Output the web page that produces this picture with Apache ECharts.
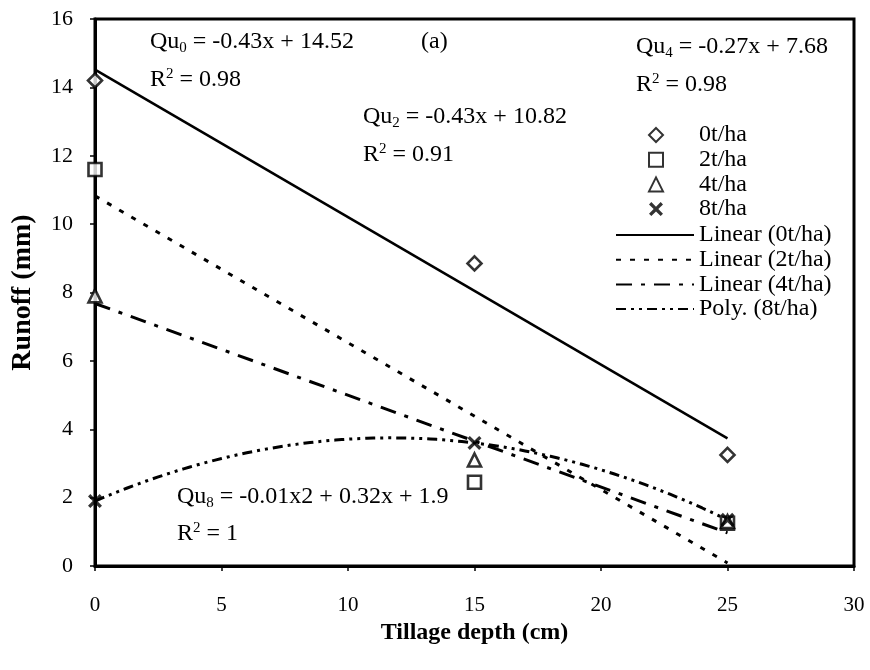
<!DOCTYPE html>
<html>
<head>
<meta charset="utf-8">
<script src="https://cdn.jsdelivr.net/npm/echarts@6/dist/echarts.min.js"></script>
<style>
  html, body { margin: 0; padding: 0; background: #fff; }
  #chart { width: 870px; height: 670px; }
</style>
</head>
<body>
<div id="chart"></div>
<script>
// Tillage depth (cm) and measured runoff (mm) for each residue rate
const depth = [0, 15, 25];
const runoff0 = [14.2, 8.85, 3.25];
const runoff2 = [11.6, 2.45, 1.25];
const runoff4 = [7.9, 3.1, 1.3];
const runoff8 = [1.9, 3.6, 1.35];

const pointNames = ['0t/ha', '2t/ha', '4t/ha', '8t/ha'];
const trendNames = ['Linear (0t/ha)', 'Linear (2t/ha)', 'Linear (4t/ha)', 'Poly. (8t/ha)'];

const xTicks = { min: 0, max: 30, step: 5 };
const yTicks = { min: 0, max: 16, step: 2 };

const FONT = '"Liberation Serif", "Times New Roman", serif';

// least-squares straight line
function linFit(xs, ys) {
  const n = xs.length;
  const mx = xs.reduce((a, b) => a + b, 0) / n;
  const my = ys.reduce((a, b) => a + b, 0) / n;
  let sxy = 0, sxx = 0;
  for (let i = 0; i < n; i++) { sxy += (xs[i] - mx) * (ys[i] - my); sxx += (xs[i] - mx) ** 2; }
  const b = sxy / sxx;
  return x => my + b * (x - mx);
}
// least-squares quadratic (normal equations, Cramer's rule)
function quadFit(xs, ys) {
  const S = k => xs.reduce((a, x) => a + x ** k, 0);
  const T = k => xs.reduce((a, x, i) => a + ys[i] * x ** k, 0);
  const M = [[S(4), S(3), S(2)], [S(3), S(2), S(1)], [S(2), S(1), xs.length]];
  const R = [T(2), T(1), T(0)];
  const det = m => m[0][0] * (m[1][1] * m[2][2] - m[1][2] * m[2][1])
                 - m[0][1] * (m[1][0] * m[2][2] - m[1][2] * m[2][0])
                 + m[0][2] * (m[1][0] * m[2][1] - m[1][1] * m[2][0]);
  const D = det(M);
  const col = j => M.map((row, i) => row.map((v, k) => (k === j ? R[i] : v)));
  const a = det(col(0)) / D, b = det(col(1)) / D, c = det(col(2)) / D;
  return x => a * x * x + b * x + c;
}

const xFirst = depth[0], xLast = depth[depth.length - 1];
function lineData(f) { return [[xFirst, f(xFirst)], [xLast, f(xLast)]]; }
function curveData(f) {
  const out = [];
  for (let x = xFirst; x <= xLast + 1e-9; x += 0.25) out.push([x, f(x)]);
  return out;
}
const pairs = ys => depth.map((x, i) => [x, ys[i]]);

const crossPath = 'path://M0,2L2,0L6,4L10,0L12,2L8,6L12,10L10,12L6,8L2,12L0,10L4,6Z';
const hollow = { color: '#fff', borderColor: '#000', borderWidth: 2.6 };

const chart = echarts.init(document.getElementById('chart'), null, { renderer: 'canvas' });

const richEq = {
  sub: { fontFamily: FONT, fontSize: 15, color: '#000', padding: [13, 0, 0, 0] },
  sup: { fontFamily: FONT, fontSize: 15, color: '#000', padding: [0, 0, 12, 0] }
};
function eqText(text, x, y) {
  return {
    type: 'text', x: x, y: y, z: 100,
    style: { text, fontFamily: FONT, fontSize: 24, fill: '#000', verticalAlign: 'middle', rich: richEq }
  };
}

chart.setOption({
  animation: false,
  backgroundColor: '#fff',
  grid: {
    left: 95, right: 16, top: 19, bottom: 104,
    containLabel: false, outerBoundsMode: 'none',
    show: true, borderColor: '#000', borderWidth: 3
  },
  xAxis: {
    type: 'value', min: xTicks.min, max: xTicks.max, interval: xTicks.step,
    name: 'Tillage depth (cm)', nameLocation: 'middle', nameGap: 53,
    nameTextStyle: { fontFamily: FONT, fontSize: 24, fontWeight: 'bold', color: '#000' },
    axisLine: { lineStyle: { color: '#000', width: 3 } },
    axisTick: { show: true, length: 5, lineStyle: { color: '#000', width: 1.5 } },
    axisLabel: { fontFamily: FONT, fontSize: 21, color: '#000', margin: 29 },
    splitLine: { show: false }
  },
  yAxis: {
    type: 'value', min: yTicks.min, max: yTicks.max, interval: yTicks.step,
    name: 'Runoff (mm)', nameLocation: 'middle', nameGap: 58,
    nameTextStyle: { fontFamily: FONT, fontSize: 28, fontWeight: 'bold', color: '#000' },
    axisLine: { lineStyle: { color: '#000', width: 3 } },
    axisTick: { show: true, length: 5, lineStyle: { color: '#000', width: 1.5 } },
    axisLabel: { fontFamily: FONT, fontSize: 22, color: '#000', margin: 22 },
    splitLine: { show: false }
  },
  legend: [
    {
      data: pointNames, orient: 'vertical', left: 648, top: 123, padding: 0,
      itemWidth: 14, itemHeight: 14, itemGap: 0.7,
      textStyle: { fontFamily: FONT, fontSize: 24, lineHeight: 24, color: '#000', padding: [0, 0, 0, 31] }
    },
    {
      data: trendNames, orient: 'vertical', left: 615, top: 223, padding: 0,
      itemWidth: 78, itemHeight: 14, itemGap: 0.7,
      itemStyle: { opacity: 0 },
      textStyle: { fontFamily: FONT, fontSize: 24, lineHeight: 24, color: '#000' }
    }
  ],
  graphic: [
    eqText('Qu{sub|0} = -0.43x + 14.52', 150, 42),
    eqText('R{sup|2} = 0.98', 150, 80),
    eqText('(a)', 421, 42),
    eqText('Qu{sub|2} = -0.43x + 10.82', 363, 117),
    eqText('R{sup|2} = 0.91', 363, 155),
    eqText('Qu{sub|4} = -0.27x + 7.68', 636, 47),
    eqText('R{sup|2} = 0.98', 636, 85),
    eqText('Qu{sub|8} = -0.01x2 + 0.32x + 1.9', 177, 497),
    eqText('R{sup|2} = 1', 177, 534)
  ],
  series: [
    {
      name: trendNames[0], type: 'line', data: lineData(linFit(depth, runoff0)),
      symbol: 'none', lineStyle: { color: '#000', width: 2.5, type: 'solid' }, z: 2
    },
    {
      name: trendNames[1], type: 'line', data: lineData(linFit(depth, runoff2)),
      symbol: 'none', lineStyle: { color: '#000', width: 3, type: [5, 9] }, z: 2
    },
    {
      name: trendNames[2], type: 'line', data: lineData(linFit(depth, runoff4)),
      symbol: 'none', lineStyle: { color: '#000', width: 3, type: [16, 9, 4, 9] }, z: 2
    },
    {
      name: trendNames[3], type: 'line', data: curveData(quadFit(depth, runoff8)),
      symbol: 'none', lineStyle: { color: '#000', width: 3, type: [10, 5, 3, 5, 3, 5] }, z: 2
    },
    {
      name: pointNames[0], type: 'scatter', data: pairs(runoff0), clip: false,
      symbol: 'diamond', symbolSize: 14, itemStyle: hollow, z: 5
    },
    {
      name: pointNames[1], type: 'scatter', data: pairs(runoff2), clip: false,
      symbol: 'rect', symbolSize: 13, itemStyle: hollow, z: 5
    },
    {
      name: pointNames[2], type: 'scatter', data: pairs(runoff4), clip: false,
      symbol: 'triangle', symbolSize: 13, itemStyle: hollow, z: 5
    },
    {
      name: pointNames[3], type: 'scatter', data: pairs(runoff8), clip: false,
      symbol: crossPath, symbolSize: 14, itemStyle: { color: '#000' }, z: 6
    }
  ]
});
</script>
</body>
</html>
